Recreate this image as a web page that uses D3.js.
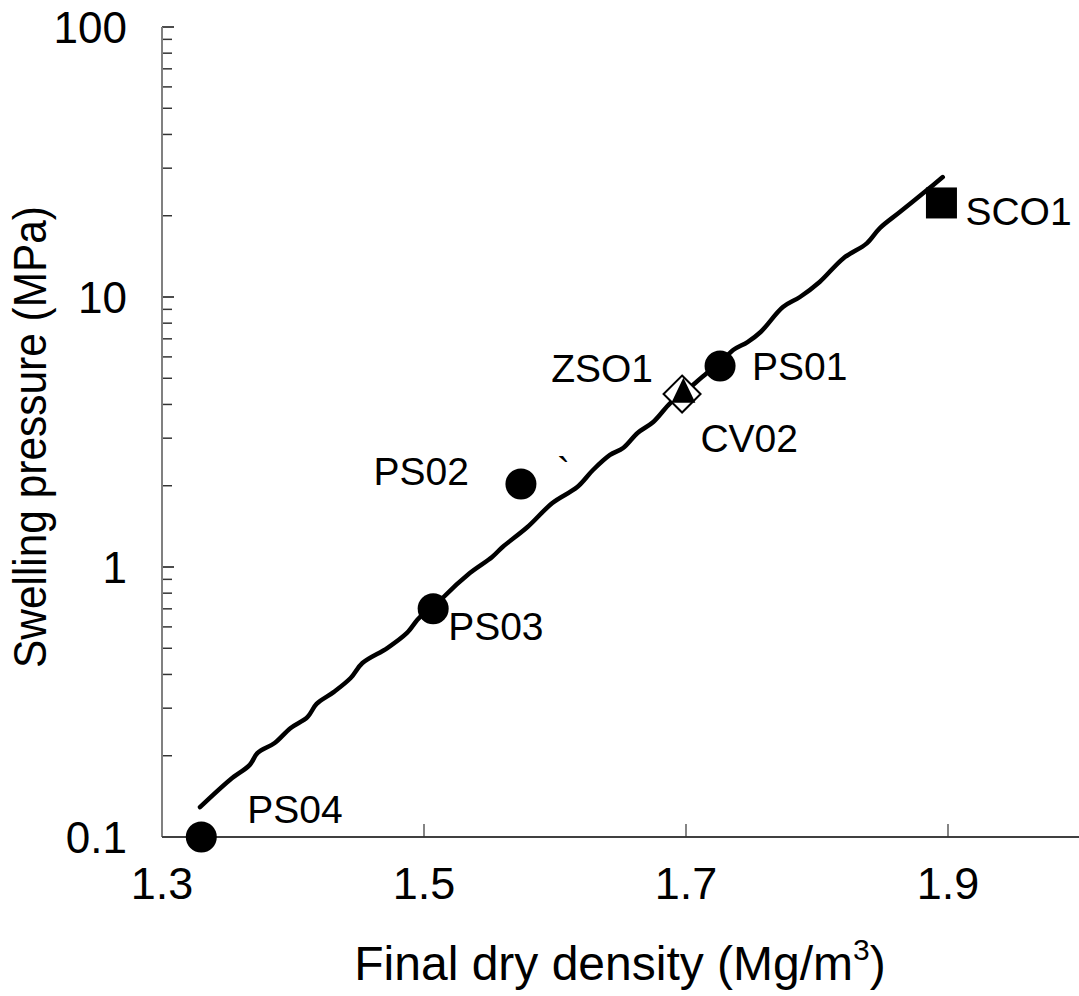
<!DOCTYPE html>
<html>
<head>
<meta charset="utf-8">
<script src="https://cdn.jsdelivr.net/npm/d3@7"></script>
<style>
  html, body { margin: 0; padding: 0; background: #fff; }
  svg { display: block; font-family: "Liberation Sans", Arial, sans-serif; }
</style>
</head>
<body>
<svg id="chart" width="1079" height="996"></svg>
<script>
// ---- data ----
const sampleNames   = ["PS04", "PS03", "PS02", "ZSO1", "CV02", "PS01", "SCO1"];
const sampleDensity = [1.330, 1.507, 1.574, 1.697, 1.698, 1.726, 1.895];
const samplePressure= [0.10, 0.70, 2.03, 4.37, 4.5, 5.55, 22.3];
const sampleMarker  = ["circle", "circle", "circle", "diamond", "triangle", "circle", "square"];

// fitted (wavy) curve
const curveDensity  = [1.329, 1.352, 1.367, 1.373, 1.386, 1.398, 1.411, 1.418, 1.431, 1.444,
                       1.453, 1.472, 1.487, 1.497, 1.507, 1.515, 1.535, 1.552, 1.560, 1.579,
                       1.598, 1.617, 1.629, 1.642, 1.652, 1.663, 1.675, 1.688, 1.698, 1.716,
                       1.726, 1.736, 1.747, 1.757, 1.774, 1.787, 1.802, 1.820, 1.838, 1.848,
                       1.863, 1.884, 1.896];
const curvePressure = [0.129, 0.163, 0.185, 0.205, 0.223, 0.253, 0.278, 0.311, 0.344, 0.388,
                       0.441, 0.501, 0.570, 0.653, 0.699, 0.774, 0.950, 1.089, 1.186, 1.406,
                       1.726, 1.978, 2.287, 2.600, 2.759, 3.136, 3.444, 4.048, 4.41, 5.23,
                       5.70, 6.36, 6.81, 7.42, 9.18, 10.0, 11.37, 13.9, 15.8, 18.0,
                       20.6, 24.9, 27.8];

const xTicks = [1.3, 1.5, 1.7, 1.9];
const xTickLabels = ["1.3", "1.5", "1.7", "1.9"];
const yMajorTicks = [0.1, 1, 10, 100];
const yTickLabels = ["0.1", "1", "10", "100"];
const yMinorTicks = [0.2,0.3,0.4,0.5,0.6,0.7,0.8,0.9, 2,3,4,5,6,7,8,9, 20,30,40,50,60,70,80,90];

const xTitle = "Final dry density (Mg/m";
const yTitle = "Swelling pressure (MPa)";

// ---- layout ----
const svg = d3.select("#chart");
const x = d3.scaleLinear().domain([1.3, 2.0]).range([162, 1079]);
const y = d3.scaleLog().domain([0.1, 100]).range([837, 27]);

// label offsets (px) relative to marker
const labelOffset = {
  PS04: {dx: 46, dy: -14, anchor: "start"},
  PS03: {dx: 15, dy: 31, anchor: "start"},
  PS02: {dx: -52, dy: 1, anchor: "end"},
  ZSO1: {dx: -29, dy: -12, anchor: "end"},
  CV02: {dx: 17, dy: 61, anchor: "start"},
  PS01: {dx: 32, dy: 14, anchor: "start"},
  SCO1: {dx: 24, dy: 22, anchor: "start"}
};

// ---- axes ----
const yAxisG = svg.append("g").attr("transform", "translate(162,0)");
yAxisG.selectAll("line.minor").data(yMinorTicks).join("line")
  .attr("x1", 0).attr("x2", 10)
  .attr("y1", d => y(d)).attr("y2", d => y(d))
  .attr("stroke", "#333").attr("stroke-width", 1.5);
yAxisG.selectAll("line.major").data(yMajorTicks).join("line")
  .attr("x1", 0).attr("x2", 12)
  .attr("y1", d => y(d)).attr("y2", d => y(d))
  .attr("stroke", "#111").attr("stroke-width", 1.5);
yAxisG.append("line")
  .attr("x1", 0).attr("x2", 0).attr("y1", y(100)).attr("y2", y(0.1))
  .attr("stroke", "#808080").attr("stroke-width", 2);
svg.append("g").selectAll("text").data(yMajorTicks).join("text")
  .attr("x", 127).attr("y", d => y(d)).attr("dy", "0.36em")
  .attr("text-anchor", "end").attr("font-size", 44).attr("fill", "#000")
  .text((d, i) => yTickLabels[i]);

// x axis
const xAxisG = svg.append("g");
xAxisG.append("line")
  .attr("x1", x(1.3)).attr("x2", x(2.0)).attr("y1", y(0.1)).attr("y2", y(0.1))
  .attr("stroke", "#404040").attr("stroke-width", 2);
xAxisG.selectAll("line.tick").data(xTicks.slice(1)).join("line")
  .attr("x1", d => x(d)).attr("x2", d => x(d))
  .attr("y1", y(0.1)).attr("y2", y(0.1) - 13)
  .attr("stroke", "#333").attr("stroke-width", 1.2);
xAxisG.selectAll("text").data(xTicks).join("text")
  .attr("x", d => x(d)).attr("y", 899)
  .attr("text-anchor", "middle").attr("font-size", 45).attr("fill", "#000")
  .text((d, i) => xTickLabels[i]);

// titles
const xt = svg.append("text").attr("x", 620).attr("y", 980)
  .attr("text-anchor", "middle").attr("font-size", 48).attr("fill", "#000");
xt.append("tspan").text(xTitle);
xt.append("tspan").attr("font-size", 30).attr("dy", -20).text("3");
xt.append("tspan").attr("dy", 20).text(")");

svg.append("text").attr("transform", "translate(46,437) rotate(-90)")
  .attr("text-anchor", "middle").attr("font-size", 46).attr("fill", "#000")
  .attr("textLength", 462).attr("lengthAdjust", "spacingAndGlyphs")
  .text(yTitle);

// ---- curve ----
const curvePts = curveDensity.map((d, i) => [d, curvePressure[i]]);
svg.append("path").datum(curvePts)
  .attr("d", d3.line().x(d => x(d[0])).y(d => y(d[1])).curve(d3.curveCatmullRom.alpha(0.5)))
  .attr("fill", "none").attr("stroke", "#000").attr("stroke-width", 4.5)
  .attr("stroke-linejoin", "round").attr("stroke-linecap", "round");

// ---- markers ----
const pts = sampleNames.map((n, i) => ({name: n, xv: sampleDensity[i], yv: samplePressure[i], m: sampleMarker[i]}));
const order = ["diamond", "circle", "square", "triangle"];
const mg = svg.append("g");
pts.slice().sort((a, b) => order.indexOf(a.m) - order.indexOf(b.m)).forEach(p => {
  const cx = x(p.xv), cy = y(p.yv);
  if (p.m === "circle") {
    mg.append("circle").attr("cx", cx).attr("cy", cy).attr("r", 15.5).attr("fill", "#000");
  } else if (p.m === "square") {
    mg.append("rect").attr("x", cx - 15.5).attr("y", cy - 15.5).attr("width", 31).attr("height", 31).attr("fill", "#000");
  } else if (p.m === "diamond") {
    mg.append("path").attr("d", `M${cx},${cy-18.5}L${cx+18.5},${cy}L${cx},${cy+18.5}L${cx-18.5},${cy}Z`)
      .attr("fill", "#fff").attr("stroke", "#000").attr("stroke-width", 2);
  } else if (p.m === "triangle") {
    mg.append("path").attr("d", `M${cx},${cy-13}L${cx+12},${cy+12}L${cx-12},${cy+12}Z`).attr("fill", "#000");
  }
});

// ---- labels ----
svg.append("g").selectAll("text").data(pts).join("text")
  .attr("x", d => x(d.xv) + labelOffset[d.name].dx)
  .attr("y", d => y(d.yv) + labelOffset[d.name].dy)
  .attr("text-anchor", d => labelOffset[d.name].anchor)
  .attr("font-size", 39).attr("fill", "#000")
  .text(d => d.name);
// stray backtick next to PS02
svg.append("text").attr("x", x(1.574) + 36).attr("y", y(2.03) + 1)
  .attr("font-size", 39).attr("fill", "#000").text("`");
</script>
</body>
</html>
